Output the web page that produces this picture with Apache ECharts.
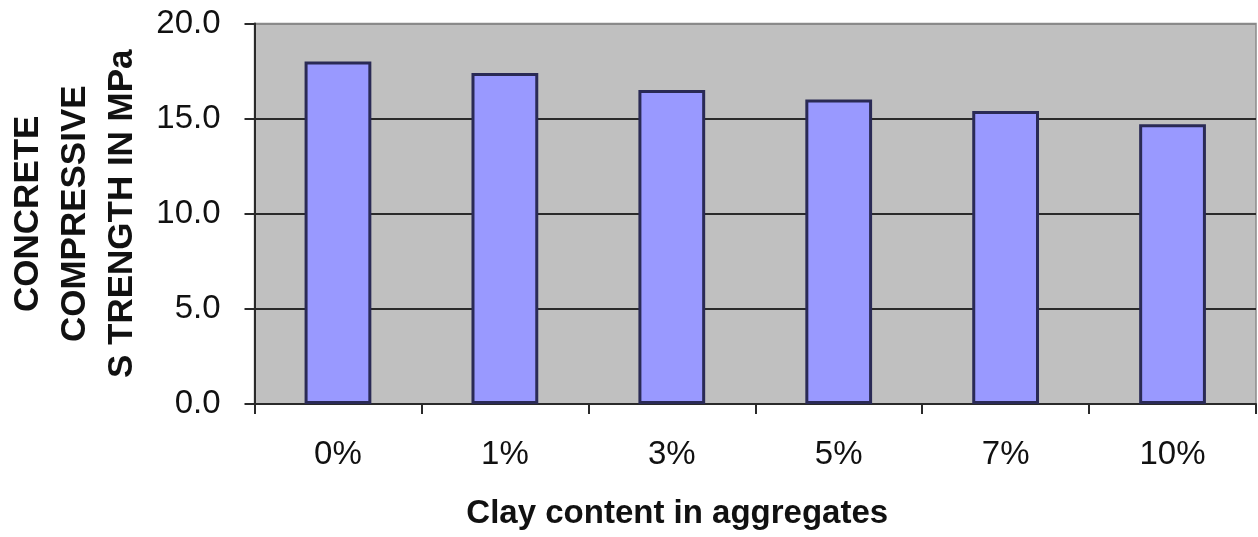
<!DOCTYPE html>
<html>
<head>
<meta charset="utf-8">
<script src="https://cdn.jsdelivr.net/npm/echarts@6/dist/echarts.min.js"></script>
<style>
  html, body { margin: 0; padding: 0; background: #ffffff; }
  #chart { width: 1258px; height: 537px; }
</style>
</head>
<body>
<div id="chart"></div>
<script>
// Clay content in the aggregates and the resulting compressive strength (MPa)
const clayContent = ['0%', '1%', '3%', '5%', '7%', '10%'];
const strengthMPa = [18.0, 17.4, 16.5, 16.0, 15.4, 14.7];
const yTicks = { min: 0, max: 20, interval: 5 };

const xTitle = 'Clay content in aggregates';
const yTitle = ['CONCRETE', 'COMPRESSIVE', 'S TRENGTH IN MPa'];

const chart = echarts.init(document.getElementById('chart'));
const font = 'Liberation Sans, Arial, sans-serif';

chart.setOption({
  animation: false,
  backgroundColor: '#ffffff',
  grid: {
    left: 254.5, right: 2, top: 23.5, bottom: 133,
    outerBoundsMode: 'none',
    containLabel: false,
    show: true,
    backgroundColor: '#c0c0c0',
    borderColor: '#8a8a8a',
    borderWidth: 1.5
  },
  xAxis: {
    type: 'category',
    data: clayContent,
    name: xTitle,
    nameLocation: 'middle',
    nameGap: 93,
    nameTextStyle: {
      fontFamily: font, fontSize: 33, fontWeight: 'bold', color: '#111111',
      padding: [0, 156, 0, 0]
    },
    axisLine: { lineStyle: { color: '#2a2a2a', width: 2 } },
    axisTick: { show: true, alignWithLabel: false, length: 10, lineStyle: { color: '#2a2a2a', width: 2 } },
    axisLabel: { fontFamily: font, fontSize: 33, color: '#111111', margin: 34 },
    splitLine: { show: false }
  },
  yAxis: {
    type: 'value',
    min: yTicks.min, max: yTicks.max, interval: yTicks.interval,
    name: yTitle.join('\n'),
    nameLocation: 'middle',
    nameGap: 106.5,
    nameTextStyle: {
      fontFamily: font, fontSize: 35, fontWeight: 'bold', color: '#111111',
      lineHeight: 47, align: 'center'
    },
    axisLine: { show: true, lineStyle: { color: '#2a2a2a', width: 2 } },
    axisTick: { show: true, length: 10, lineStyle: { color: '#2a2a2a', width: 2 } },
    axisLabel: {
      fontFamily: font, fontSize: 33, color: '#111111', margin: 34,
      formatter: v => v.toFixed(1)
    },
    splitLine: {
      show: true,
      lineStyle: { color: ['#2a2a2a', '#2a2a2a', '#2a2a2a', '#2a2a2a', '#8a8a8a'], width: 2 }
    }
  },
  series: [{
    type: 'bar',
    data: strengthMPa,
    barWidth: '40%',
    itemStyle: {
      color: '#9999ff',
      borderColor: '#2a2a55',
      borderWidth: 3
    }
  }]
});
</script>
</body>
</html>
